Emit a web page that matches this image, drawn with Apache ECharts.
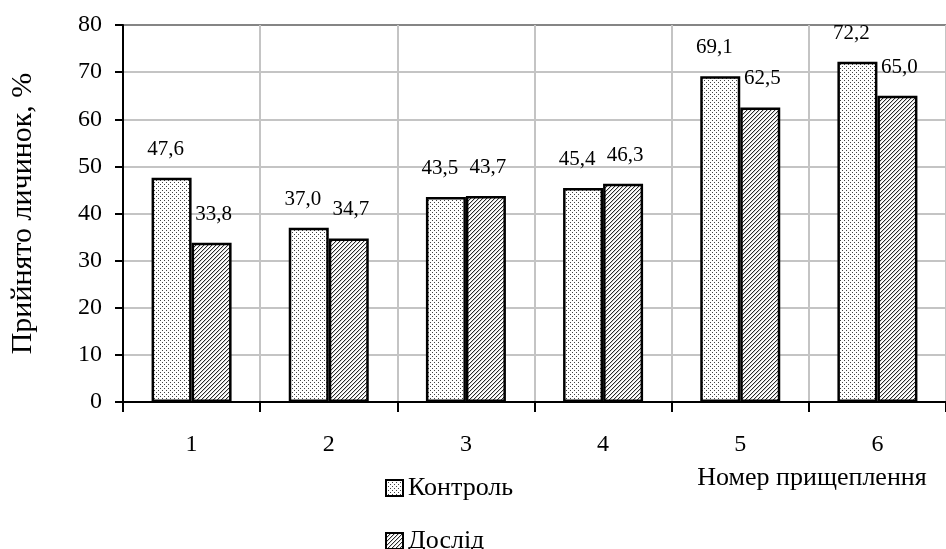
<!DOCTYPE html>
<html>
<head>
<meta charset="utf-8">
<script src="https://cdn.jsdelivr.net/npm/echarts@6/dist/echarts.min.js"></script>
<style>
html,body{margin:0;padding:0;background:#fff;}
#chart{width:946px;height:549px;}
</style>
</head>
<body>
<div id="chart"></div>
<script>
const categories = ['1', '2', '3', '4', '5', '6'];
const controlValues = [47.6, 37.0, 43.5, 45.4, 69.1, 72.2];
const experimentValues = [33.8, 34.7, 43.7, 46.3, 62.5, 65.0];
const seriesNames = ['Контроль', 'Дослід'];
const yTicks = { min: 0, max: 80, interval: 10 };
const yAxisTitle = 'Прийнято личинок, %';
const xAxisTitle = 'Номер прищеплення';

function dotPattern() {
  const c = document.createElement('canvas');
  c.width = 4; c.height = 4;
  const g = c.getContext('2d');
  g.fillStyle = '#ffffff'; g.fillRect(0, 0, 4, 4);
  g.fillStyle = '#444444';
  g.fillRect(0, 0, 1, 1);
  g.fillRect(2, 2, 1, 1);
  return c;
}
function hatchPattern() {
  const n = 4;
  const c = document.createElement('canvas');
  c.width = n; c.height = n;
  const g = c.getContext('2d');
  g.fillStyle = '#ffffff'; g.fillRect(0, 0, n, n);
  for (let x = 0; x < n; x++) {
    for (let y = 0; y < n; y++) {
      const k = (x + y) % n;
      if (k === 0) { g.fillStyle = '#2a2a2a'; g.fillRect(x, y, 1, 1); }
      else if (k === 1) { g.fillStyle = '#d0d0d0'; g.fillRect(x, y, 1, 1); }
    }
  }
  return c;
}

const font = 'Liberation Serif, Times New Roman, serif';
const fmt = p => p.value.toFixed(1).replace('.', ',');

const gridColors = [];
for (let v = yTicks.min; v <= yTicks.max; v += yTicks.interval) {
  gridColors.push(v === yTicks.max ? '#858585' : '#c4c4c4');
}

const legendBase = {
  orient: 'vertical',
  left: 380,
  itemWidth: 17,
  itemHeight: 16,
  icon: 'rect',
  textStyle: { fontFamily: font, fontSize: 26, color: '#000' }
};

const chart = echarts.init(document.getElementById('chart'));
chart.setOption({
  animation: false,
  backgroundColor: '#ffffff',
  grid: { left: 123, top: 25, width: 834, height: 377, containLabel: false },
  legend: [
    Object.assign({}, legendBase, { top: 470, data: [seriesNames[0]] }),
    Object.assign({}, legendBase, { top: 523, data: [seriesNames[1]] })
  ],
  xAxis: {
    type: 'category',
    data: categories,
    axisLine: { lineStyle: { color: '#000', width: 2 } },
    axisTick: { show: true, length: 10, lineStyle: { color: '#000', width: 2 } },
    axisLabel: { margin: 31, fontFamily: font, fontSize: 24, color: '#000' },
    splitLine: { show: true, lineStyle: { color: '#c4c4c4', width: 2 } }
  },
  yAxis: {
    type: 'value',
    min: yTicks.min,
    max: yTicks.max,
    interval: yTicks.interval,
    name: yAxisTitle,
    nameLocation: 'middle',
    nameGap: 85,
    nameTextStyle: { fontFamily: font, fontSize: 30, color: '#000' },
    axisLine: { show: true, lineStyle: { color: '#000', width: 2 } },
    axisTick: { show: true, length: 8, lineStyle: { color: '#000', width: 2 } },
    axisLabel: { margin: 21, fontFamily: font, fontSize: 24, color: '#000' },
    splitLine: { show: true, lineStyle: { color: gridColors, width: 2 } }
  },
  graphic: [{
    type: 'text',
    x: 812,
    y: 478,
    style: {
      text: xAxisTitle,
      font: '26px ' + font,
      fill: '#000',
      align: 'center',
      verticalAlign: 'middle'
    }
  }],
  series: [
    {
      name: seriesNames[0],
      type: 'bar',
      data: controlValues,
      barWidth: 40,
      barGap: '0%',
      itemStyle: {
        color: { image: dotPattern(), repeat: 'repeat' },
        borderColor: '#000',
        borderWidth: 2.5
      },
      label: {
        show: true, position: 'top', distance: 18, offset: [-6, 0],
        formatter: fmt, fontFamily: font, fontSize: 21, color: '#000'
      }
    },
    {
      name: seriesNames[1],
      type: 'bar',
      data: experimentValues,
      barWidth: 40,
      barGap: '0%',
      itemStyle: {
        color: { image: hatchPattern(), repeat: 'repeat' },
        borderColor: '#000',
        borderWidth: 2.5
      },
      label: {
        show: true, position: 'top', distance: 18, offset: [2, 0],
        formatter: fmt, fontFamily: font, fontSize: 21, color: '#000'
      }
    }
  ]
});
</script>
</body>
</html>
